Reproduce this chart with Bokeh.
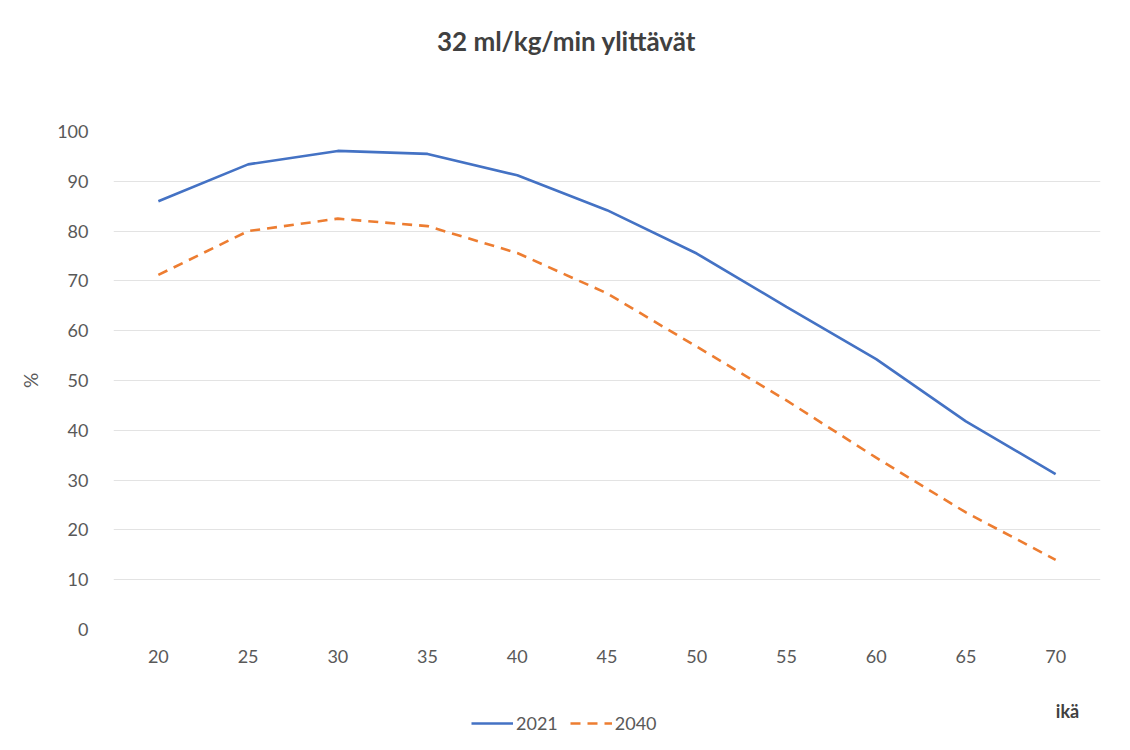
from bokeh.plotting import figure
from bokeh.models import Range1d, Legend, LegendItem, FixedTicker, Label
from bokeh.layouts import column
from bokeh.embed import file_html
from bokeh.resources import INLINE

ages = [20, 25, 30, 35, 40, 45, 50, 55, 60, 65, 70]
y2021 = [86.0, 93.4, 96.1, 95.5, 91.2, 84.2, 75.5, 64.8, 54.3, 41.8, 31.2]
y2040 = [71.2, 80.0, 82.5, 81.0, 75.6, 67.5, 56.8, 46.0, 34.5, 23.5, 14.0]
x_ticks = [20, 25, 30, 35, 40, 45, 50, 55, 60, 65, 70]
y_ticks = [0, 10, 20, 30, 40, 50, 60, 70, 80, 90, 100]
series_names = ["2021", "2040"]

FONT = "Lato"
TXT = "#595959"
BLUE = "#4472C4"
ORANGE = "#ED7D31"
DASH = "10 7"

W = 1130
LEFT, RIGHT = 113, 30
TOP_H, MAIN_H, BOT_H = 60, 635, 55


def blank_fig(h):
    # frames of a column are aligned with the main chart's frame (x 113..1100 px),
    # so the x range is given in canvas pixels
    f = figure(width=W, height=h, output_backend="svg", toolbar_location=None,
               x_range=Range1d(LEFT, W - RIGHT), y_range=Range1d(0, h),
               x_axis_location=None, y_axis_location=None,
               min_border_left=LEFT, min_border_right=RIGHT, min_border_top=0, min_border_bottom=0)
    f.grid.visible = False
    f.outline_line_color = None
    f.background_fill_color = "white"
    f.border_fill_color = "white"
    return f


# ---- title strip
top = blank_fig(TOP_H)
top.add_layout(Label(x=566, y=TOP_H - 40, text="32 ml/kg/min ylittävät", text_font=FONT,
                     text_font_style="bold", text_font_size="26px", text_color="#404040",
                     text_align="center", text_baseline="middle"))

# ---- main chart
p = figure(width=W, height=MAIN_H, output_backend="svg", toolbar_location=None,
           x_range=Range1d(17.5, 72.5), y_range=Range1d(0, 100),
           min_border_left=LEFT, min_border_right=RIGHT, min_border_top=71, min_border_bottom=66)
p.background_fill_color = "white"
p.border_fill_color = "white"
p.outline_line_color = None

for ax in (p.xaxis[0], p.yaxis[0]):
    ax.axis_line_color = None
    ax.major_tick_line_color = None
    ax.minor_tick_line_color = None
    ax.major_tick_out = 0
    ax.major_tick_in = 0
    ax.minor_tick_out = 0
    ax.major_label_text_font = FONT
    ax.major_label_text_font_size = "18px"
    ax.major_label_text_color = TXT
    ax.axis_label_text_font = FONT
    ax.axis_label_text_font_style = "normal"
p.xaxis.ticker = FixedTicker(ticks=x_ticks)
p.yaxis.ticker = FixedTicker(ticks=y_ticks)
p.xaxis.major_label_standoff = 20
p.yaxis.major_label_standoff = 25
p.yaxis.axis_label = "%"
p.yaxis.axis_label_text_font_size = "19px"
p.yaxis.axis_label_text_color = TXT
p.yaxis.axis_label_standoff = 12
p.xgrid.grid_line_color = None
p.ygrid.grid_line_color = "#e3e3e3"
p.ygrid.grid_line_width = 1

p.line(ages, y2021, line_color=BLUE, line_width=2.6)
p.line(ages, y2040, line_color=ORANGE, line_width=2.6, line_dash=DASH)

# ---- bottom strip: x-axis name and legend
bot = blank_fig(BOT_H)
bot.add_layout(Label(x=1067, y=BOT_H - 15, text="ikä", text_font=FONT, text_font_style="bold",
                     text_font_size="18px", text_color="#404040",
                     text_align="center", text_baseline="middle"))
# legend-key renderers: the same series, lying outside this strip's visible range
k1 = bot.line(ages, y2021, line_color=BLUE, line_width=2.6)
k2 = bot.line(ages, y2040, line_color=ORANGE, line_width=2.6, line_dash=DASH)
legend = Legend(items=[LegendItem(label=series_names[0], renderers=[k1]),
                       LegendItem(label=series_names[1], renderers=[k2])],
                orientation="horizontal", location=(471 - LEFT, 16),
                label_text_font=FONT, label_text_font_size="18px", label_text_color=TXT,
                glyph_width=42, label_standoff=3, spacing=12, padding=0, margin=0,
                border_line_color=None, background_fill_alpha=0)
bot.add_layout(legend, "center")

layout = column(top, p, bot, spacing=0)
open("out.html", "w").write(file_html(layout, INLINE))
